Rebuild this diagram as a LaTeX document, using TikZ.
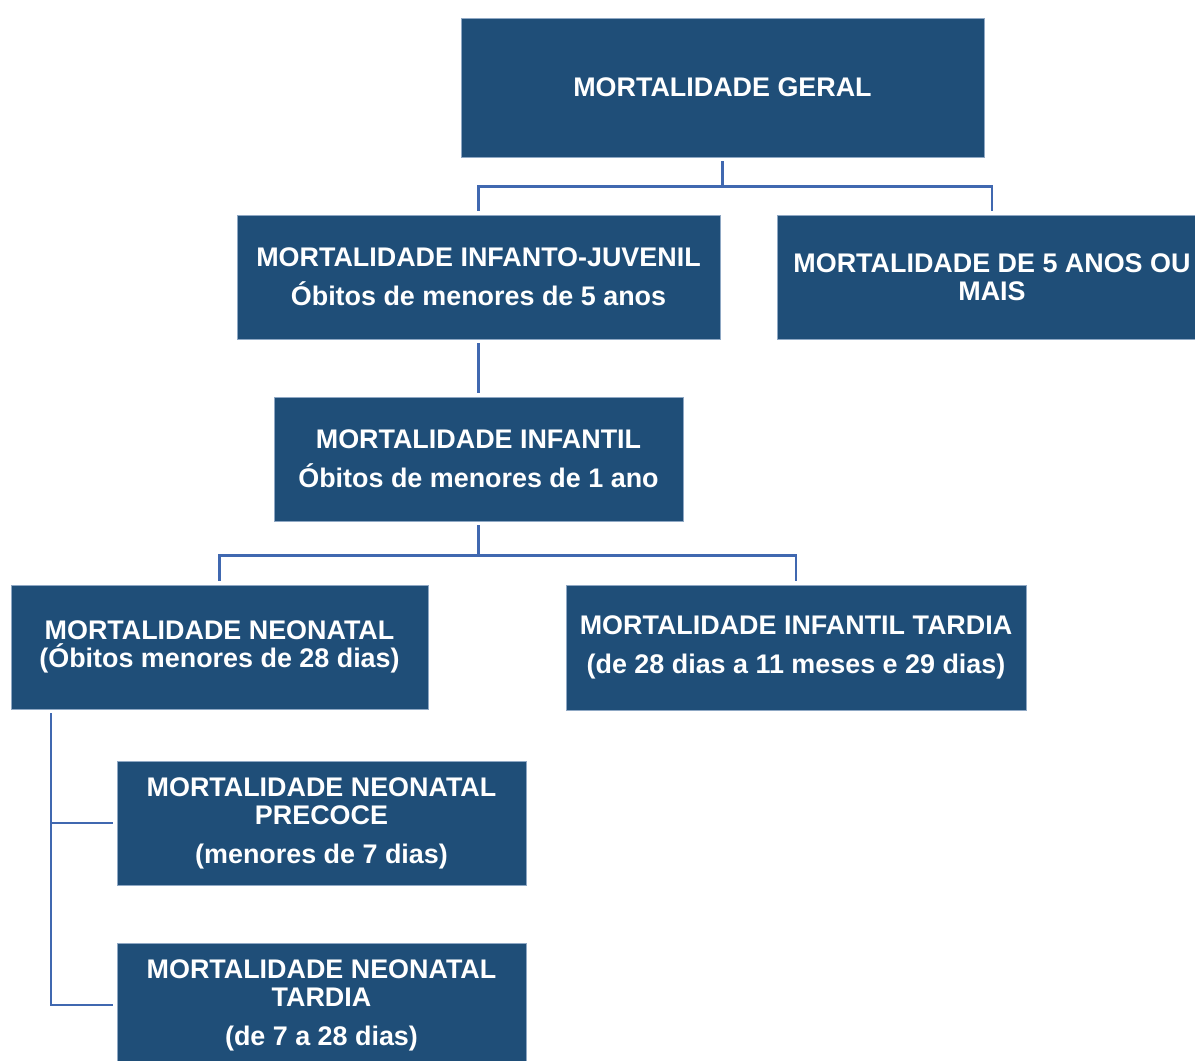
\documentclass[tikz,border=0pt]{standalone}
\usepackage{fontspec}
\setmainfont{Liberation Sans}
\definecolor{boxfill}{HTML}{1F4E78}
\definecolor{boxedge}{HTML}{8FA8C4}
\definecolor{linecol}{HTML}{4068B0}
\tikzset{
  box/.style={draw=boxedge, line width=0.8pt, fill=boxfill, text=white, align=center,
    font=\fontsize{26.9}{28}\selectfont\bfseries, inner sep=0pt},
  conn/.style={draw=linecol, line width=2.6pt, shorten <=4pt, shorten >=4pt},
}
\begin{document}
\begin{tikzpicture}[x=1pt, y=-1pt]
\useasboundingbox (0,0) rectangle (1195,1061);
\node[box, minimum width=523pt, minimum height=139pt] (geral) at (722.5,87.5) {MORTALIDADE GERAL};
\node[box, minimum width=483pt, minimum height=124pt] (ij) at (478.5,277) {MORTALIDADE INFANTO-JUVENIL\\[11pt]Óbitos de menores de 5 anos};
\node[box, minimum width=430pt, minimum height=124pt] (mais) at (992,277) {MORTALIDADE DE 5 ANOS OU\\MAIS};
\node[box, minimum width=409pt, minimum height=124pt] (inf) at (478.5,459) {MORTALIDADE INFANTIL\\[11pt]Óbitos de menores de 1 ano};
\node[box, minimum width=417pt, minimum height=124pt] (neo) at (219.5,647) {MORTALIDADE NEONATAL\\(Óbitos menores de 28 dias)};
\node[box, minimum width=460pt, minimum height=125pt] (itardia) at (796,647.5) {MORTALIDADE INFANTIL TARDIA\\[11pt](de 28 dias a 11 meses e 29 dias)};
\node[box, minimum width=409pt, minimum height=124pt] (precoce) at (321.5,823) {MORTALIDADE NEONATAL\\PRECOCE\\[11pt](menores de 7 dias)};
\node[box, minimum width=409pt, minimum height=124pt] (ntardia) at (321.5,1005) {MORTALIDADE NEONATAL\\TARDIA\\[11pt](de 7 a 28 dias)};
\draw[conn] (geral.south) -- ++(0,29) -| (ij.north);
\draw[conn] (geral.south) -- ++(0,29) -| (mais.north);
\draw[conn] (ij.south) -- (inf.north);
\draw[conn] (inf.south) -- ++(0,34) -| (neo.north);
\draw[conn] (inf.south) -- ++(0,34) -| (itardia.north);
\draw[conn] ([xshift=40.5pt]neo.south west) |- (precoce.west);
\draw[conn] ([xshift=40.5pt]neo.south west) |- (ntardia.west);
\end{tikzpicture}
\end{document}
